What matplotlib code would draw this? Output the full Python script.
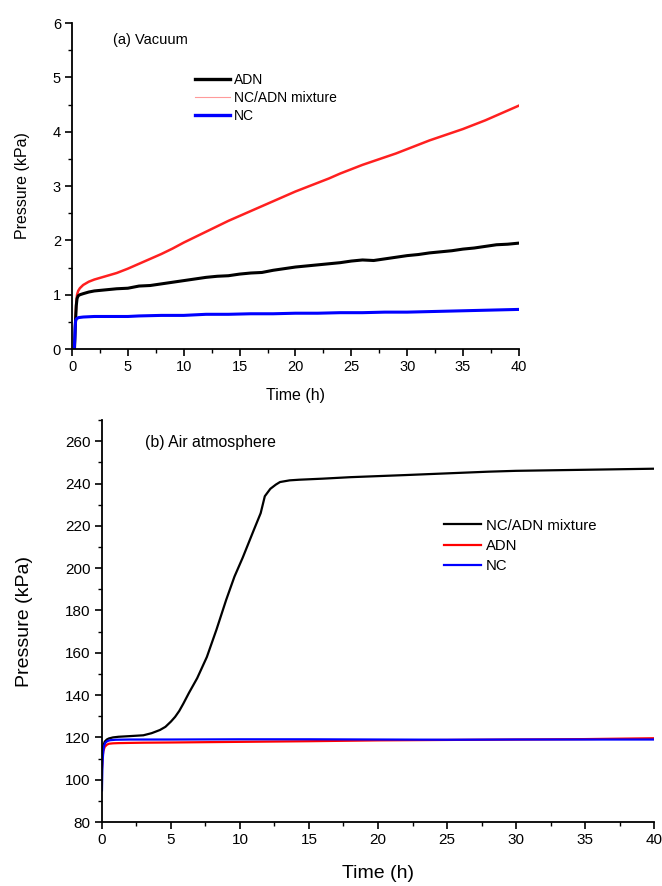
import matplotlib
matplotlib.use("Agg")
import matplotlib.pyplot as plt
from matplotlib.lines import Line2D
from matplotlib.ticker import MultipleLocator

plt.rcParams['font.family'] = ['Liberation Sans', 'DejaVu Sans']

# (a) vacuum, pressure in kPa
vac_adn_t = [0.22, 0.3, 0.38, 0.45, 0.55, 0.7, 1.0, 1.5, 2, 3, 4, 5, 6, 7, 8, 9, 10,
             11, 12, 13, 14, 15, 16, 17, 18, 19, 20, 21, 22, 23, 24, 25, 26, 27, 28,
             29, 30, 31, 32, 33, 34, 35, 36, 37, 38, 39, 40]
vac_adn_p = [0, 0.45, 0.8, 0.93, 0.98, 1.0, 1.02, 1.05, 1.07, 1.09, 1.11, 1.12, 1.16,
             1.17, 1.2, 1.23, 1.26, 1.29, 1.32, 1.34, 1.35, 1.38, 1.40, 1.41, 1.45, 1.48,
             1.51, 1.53, 1.55, 1.57, 1.59, 1.62, 1.64, 1.63, 1.66, 1.69, 1.72, 1.74, 1.77,
             1.79, 1.81, 1.84, 1.86, 1.89, 1.92, 1.93, 1.95]

vac_mix_t = [0.3, 0.38, 0.45, 0.55, 0.7, 1.0, 1.5, 2, 3, 4, 5, 6, 7, 8, 9, 10, 11, 12,
             13, 14, 15, 16, 17, 18, 19, 20, 21, 22, 23, 24, 25, 26, 27, 28, 29, 30, 31,
             32, 33, 34, 35, 36, 37, 38, 39, 40]
vac_mix_p = [0.5, 0.85, 1.0, 1.07, 1.12, 1.18, 1.24, 1.28, 1.34, 1.40, 1.48, 1.57, 1.66,
             1.75, 1.85, 1.96, 2.06, 2.16, 2.26, 2.36, 2.45, 2.54, 2.63, 2.72, 2.81, 2.9,
             2.98, 3.06, 3.14, 3.23, 3.31, 3.39, 3.46, 3.53, 3.6, 3.68, 3.76, 3.84, 3.91,
             3.98, 4.05, 4.13, 4.21, 4.3, 4.39, 4.48]

vac_nc_t = [0.2, 0.25, 0.28, 0.32, 0.4, 0.6, 1, 2, 3, 4, 5, 6, 8, 10, 12, 14, 16, 18,
            20, 22, 24, 26, 28, 30, 32, 34, 36, 38, 40]
vac_nc_p = [0, 0.2, 0.4, 0.52, 0.56, 0.58, 0.59, 0.6, 0.6, 0.6, 0.6, 0.61, 0.62, 0.62,
            0.64, 0.64, 0.65, 0.65, 0.66, 0.66, 0.67, 0.67, 0.68, 0.68, 0.69, 0.7, 0.71,
            0.72, 0.73]

# (b) air atmosphere, pressure in kPa
air_mix_t = [0, 0.1, 0.2, 0.35, 0.5, 0.8, 1.2, 2, 3, 3.6, 4.2, 4.6, 5, 5.3, 5.6, 5.9,
             6.3, 6.9, 7.6, 8.3, 9.0, 9.6, 10.2, 11.0, 11.5, 11.8, 12.2, 12.6, 12.9,
             13.6, 14.3, 16, 18, 20, 22, 25, 28, 30, 35, 40]
air_mix_p = [112, 116, 118, 119, 119.5, 120, 120.3, 120.6, 121, 122, 123.5, 125, 127.5,
             129.7, 132.5, 136, 141, 148, 158, 171, 185, 196, 205, 218, 226, 234, 237.5,
             239.5, 240.7, 241.5, 241.8, 242.3, 243, 243.5, 244, 244.8, 245.6, 246,
             246.5, 247]

air_adn_t = [0, 0.05, 0.1, 0.2, 0.35, 0.5, 0.8, 1.2, 2, 3, 5, 10, 15, 20, 25, 30, 35, 40]
air_adn_p = [105, 111, 113.5, 115.5, 116.5, 117, 117.2, 117.3, 117.4, 117.5, 117.6,
             117.9, 118.2, 118.6, 118.8, 119, 119.2, 119.6]

air_nc_t = [0, 0.03, 0.06, 0.1, 0.15, 0.25, 0.4, 0.6, 1, 2, 5, 10, 15, 20, 25, 30, 35, 40]
air_nc_p = [95, 105, 110, 113.5, 116, 117.5, 118.3, 118.7, 118.9, 119, 119, 119.1,
            119.1, 119, 118.9, 119, 119, 119]


def style_axes(ax, fs):
    ax.spines['top'].set_visible(False)
    ax.spines['right'].set_visible(False)
    for s in ('left', 'bottom'):
        ax.spines[s].set_linewidth(1.3)
    ax.tick_params(which='major', direction='out', length=5, width=1.2, labelsize=fs, pad=3)
    ax.tick_params(which='minor', direction='out', length=3, width=1.0)


fig = plt.figure(figsize=(6.62, 8.86), dpi=100)

# ---- (a) vacuum
ax1 = fig.add_axes([0.1088, 0.606, 0.675, 0.368])
ax1.plot(vac_mix_t, vac_mix_p, color='#ff2020', lw=1.8)
ax1.plot(vac_adn_t, vac_adn_p, color='black', lw=2.2)
ax1.plot(vac_nc_t, vac_nc_p, color='#0000ff', lw=2.2)
ax1.set_xlim(0, 40)
ax1.set_ylim(0, 6)
ax1.xaxis.set_major_locator(MultipleLocator(5))
ax1.xaxis.set_minor_locator(MultipleLocator(2.5))
ax1.yaxis.set_major_locator(MultipleLocator(1))
ax1.yaxis.set_minor_locator(MultipleLocator(0.5))
style_axes(ax1, 10.5)
ax1.set_xlabel('Time (h)', fontsize=11.5)
ax1.set_ylabel('Pressure (kPa)', fontsize=11.5)
ax1.xaxis.set_label_coords(0.5, -0.12)
ax1.yaxis.set_label_coords(-0.094, 0.5)
ax1.text(0.092, 0.948, '(a) Vacuum', transform=ax1.transAxes, fontsize=10.5, va='center')
handles1 = [Line2D([], [], color='black', lw=2.4),
            Line2D([], [], color='#ff9a9a', lw=0.8),
            Line2D([], [], color='#0000ff', lw=2.4)]
ax1.legend(handles1, ['ADN', 'NC/ADN mixture', 'NC'], loc='upper left',
           bbox_to_anchor=(0.275, 0.847), frameon=False, fontsize=10,
           handlelength=2.5, handletextpad=0.3, labelspacing=0.3,
           borderpad=0, borderaxespad=0)

# ---- (b) air atmosphere
ax2 = fig.add_axes([0.154, 0.0722, 0.834, 0.4537])
ax2.plot(air_mix_t, air_mix_p, color='black', lw=1.6, label='NC/ADN mixture')
ax2.plot(air_adn_t, air_adn_p, color='#ff0000', lw=1.6, label='ADN')
ax2.plot(air_nc_t, air_nc_p, color='#0000ff', lw=1.6, label='NC')
ax2.set_xlim(0, 40)
ax2.set_ylim(80, 270)
ax2.set_yticks(range(80, 261, 20))
ax2.xaxis.set_major_locator(MultipleLocator(5))
ax2.xaxis.set_minor_locator(MultipleLocator(2.5))
ax2.yaxis.set_minor_locator(MultipleLocator(10))
style_axes(ax2, 11)
ax2.set_xlabel('Time (h)', fontsize=14)
ax2.set_ylabel('Pressure (kPa)', fontsize=14)
ax2.xaxis.set_label_coords(0.5, -0.107)
ax2.yaxis.set_label_coords(-0.124, 0.5)
ax2.text(0.078, 0.943, '(b) Air atmosphere', transform=ax2.transAxes, fontsize=11.4, va='center')
ax2.legend(loc='upper left', bbox_to_anchor=(0.62, 0.755), frameon=False, fontsize=10.7,
           handlelength=2.5, handletextpad=0.3, labelspacing=0.42,
           borderpad=0, borderaxespad=0)

fig.savefig('out.png', dpi=100)
